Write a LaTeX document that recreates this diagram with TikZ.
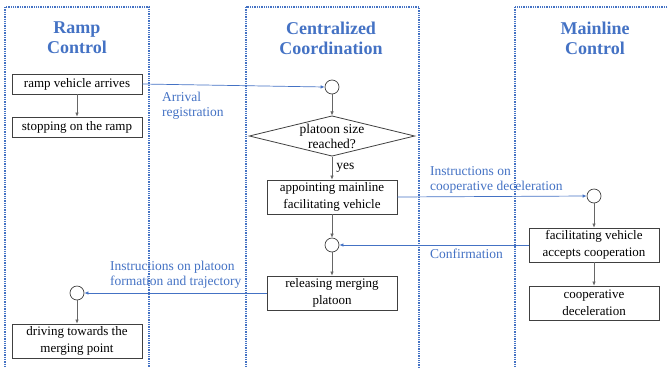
\documentclass[tikz,border=0pt]{standalone}
\usepackage{fontspec}
\setmainfont{Liberation Serif}
\usetikzlibrary{shapes.geometric,arrows.meta}
\definecolor{lblue}{HTML}{4472C4}
\begin{document}
\begin{tikzpicture}[x=1pt,y=-1pt,
  box/.style={draw=black!75, line width=0.8pt, minimum width=130pt, minimum height=20pt, inner sep=1pt, align=center, font=\fontsize{13}{16.5}\selectfont},
  tallbox/.style={box, minimum height=34pt},
  circ/.style={circle, draw=black!75, line width=0.7pt, minimum size=14pt, inner sep=0pt},
  dec/.style={diamond, aspect=4.1, draw=black!75, line width=0.8pt, inner sep=0pt, minimum width=160pt, minimum height=39pt, align=center, font=\fontsize{13.5}{15}\selectfont},
  flow/.style={-{Latex[length=4pt,width=3.5pt]}, draw=black!60, line width=0.6pt},
  msg/.style={-{Latex[length=4pt,width=3.5pt]}, draw=lblue, line width=0.7pt},
  lane/.style={draw=lblue, densely dotted, line width=1.3pt},
  ttl/.style={text=lblue, align=center, font=\bfseries\fontsize{18}{20}\selectfont},
  lbl/.style={text=lblue, align=left, anchor=west, inner sep=0pt, font=\fontsize{13.5}{15}\selectfont}]
\useasboundingbox (0,0) rectangle (668,367);
\clip (0,0) rectangle (668,367);
% lanes
\draw[lane] (5,7) rectangle (149,400);
\draw[lane] (246,7) rectangle (419,400);
\draw[lane] (515,7) rectangle (680,400);
% titles
\node[ttl] (t1) at (77,38) {Ramp\\Control};
\node[ttl] (t2) at (331,38) {Centralized\\Coordination};
\node[ttl] (t3) at (595,38) {Mainline\\Control};
% ramp
\node[box] (ra) at (77,84) {ramp vehicle arrives};
\node[box] (st) at (77,127) {stopping on the ramp};
\node[circ] (rc) at (77,293) {};
\node[tallbox] (dr) at (77,341) {driving towards the\\merging point};
% central
\node[circ] (c1) at (332,87) {};
\node[dec] (ps) at (332,136) {platoon size\\reached?};
\node[tallbox] (ap) at (332,197) {appointing mainline\\facilitating vehicle};
\node[circ] (c2) at (332,245) {};
\node[tallbox] (rl) at (332,293) {releasing merging\\platoon};
% mainline
\node[circ] (c3) at (594,196) {};
\node[tallbox] (fa) at (594,245) {facilitating vehicle\\accepts cooperation};
\node[tallbox] (cd) at (594,303) {cooperative\\deceleration};
% flows
\draw[flow] (ra) -- (st);
\draw[flow] (c1) -- (ps);
\draw[flow] (ps) -- node[right=4pt, inner sep=0pt, font=\fontsize{13.5}{15}\selectfont] (yes) {yes} (ap);
\draw[flow] (ap) -- (c2);
\draw[flow] (c2) -- (rl);
\draw[flow] (c3) -- (fa);
\draw[flow] (fa) -- (cd);
\draw[flow] (rc) -- (dr);
% messages
\draw[msg] (ra.east) -- (c1.west);
\node[lbl] (l1) at (162,105.5) {Arrival\\registration};
\draw[msg] (ap.east) -- (c3.west);
\node[lbl] (l2) at (430,179.5) {Instructions on\\cooperative deceleration};
\draw[msg] (fa.west) -- (c2.east);
\node[lbl] (l3) at (430,254) {Confirmation};
\draw[msg] (rl.west) -- (rc.east);
\node[lbl] (l4) at (110,275) {Instructions on platoon\\formation and trajectory};
\end{tikzpicture}
\end{document}
